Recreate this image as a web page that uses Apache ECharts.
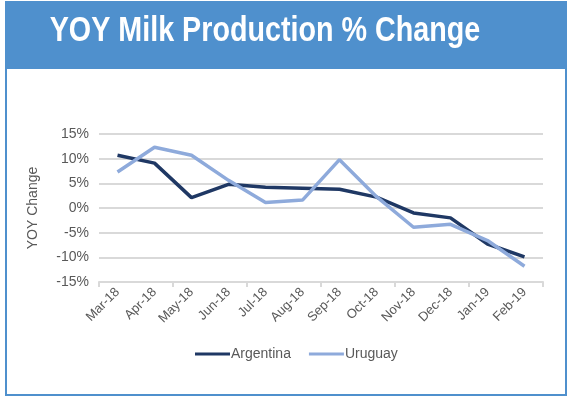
<!DOCTYPE html>
<html>
<head>
<meta charset="utf-8">
<script src="https://cdn.jsdelivr.net/npm/echarts@6/dist/echarts.min.js"></script>
<style>
  html, body { margin: 0; padding: 0; background: #fff; }
  #chart { width: 568px; height: 399px; }
</style>
</head>
<body>
<div id="chart"></div>
<script>
// months on the x axis
var months = ['Mar-18', 'Apr-18', 'May-18', 'Jun-18', 'Jul-18', 'Aug-18',
  'Sep-18', 'Oct-18', 'Nov-18', 'Dec-18', 'Jan-19', 'Feb-19'];
// yoy % change
var argentina = [10.7, 9.1, 2.1, 4.8, 4.2, 4.0, 3.8, 2.2, -1.0, -2.0, -7.3, -9.9];
var uruguay = [7.3, 12.3, 10.7, 5.6, 1.1, 1.6, 9.8, 2.3, -3.9, -3.3, -6.6, -11.8];

var chart = echarts.init(document.getElementById('chart'));
var labelColor = '#595959';
var gridColor = '#d9d9d9';

var option = {
  animation: false,
  textStyle: { fontFamily: 'Liberation Sans, Arial, sans-serif' },
  graphic: [
    { type: 'rect', shape: { x: 6, y: 2, width: 560, height: 393 },
      style: { fill: 'none', stroke: '#4f90cd', lineWidth: 2 } },
    { type: 'rect', shape: { x: 5, y: 2, width: 562, height: 67 },
      style: { fill: '#4f90cd' } },
    // title squeezed a bit, the original uses a narrow face
    { type: 'text', x: 265, y: 31, scaleX: 0.82,
      style: {
        text: 'YOY Milk Production % Change',
        fill: '#fff',
        font: 'bold 35px "Liberation Sans", Arial, sans-serif',
        textAlign: 'center',
        textVerticalAlign: 'middle'
      } }
  ],
  legend: {
    bottom: 33,
    left: 190,
    itemWidth: 35,
    itemHeight: 3,
    itemGap: 18,
    icon: 'rect',
    textStyle: { color: labelColor, fontSize: 14, padding: [0, 0, 0, -4] },
    data: ['Argentina', 'Uruguay']
  },
  grid: { left: 99, right: 25, top: 134, bottom: 117 },
  xAxis: [
    {
      type: 'category',
      data: months,
      axisLine: { show: false },
      axisTick: { show: false },
      axisLabel: { color: labelColor, fontSize: 13, rotate: 45, margin: 8, interval: 0 }
    },
    {
      type: 'category',
      data: months,
      position: 'bottom',
      axisLine: { onZero: true, lineStyle: { color: gridColor, width: 2 } },
      axisTick: { show: true, length: 5, lineStyle: { color: gridColor, width: 2 } },
      axisLabel: { show: false }
    }
  ],
  yAxis: {
    type: 'value',
    min: -15,
    max: 15,
    interval: 5,
    name: 'YOY Change',
    nameLocation: 'middle',
    nameGap: 59,
    nameTextStyle: { color: labelColor, fontSize: 14 },
    axisLabel: { color: labelColor, fontSize: 14, formatter: '{value}%', margin: 10 },
    axisLine: { show: false },
    axisTick: { show: false },
    splitLine: { lineStyle: { color: gridColor, width: 2 } }
  },
  series: [
    {
      name: 'Argentina',
      type: 'line',
      data: argentina,
      symbol: 'none',
      color: '#1f3864',
      lineStyle: { width: 3.5 }
    },
    {
      name: 'Uruguay',
      type: 'line',
      data: uruguay,
      symbol: 'none',
      color: '#8eaadb',
      lineStyle: { width: 3.5 }
    }
  ]
};

chart.setOption(option);
</script>
</body>
</html>
